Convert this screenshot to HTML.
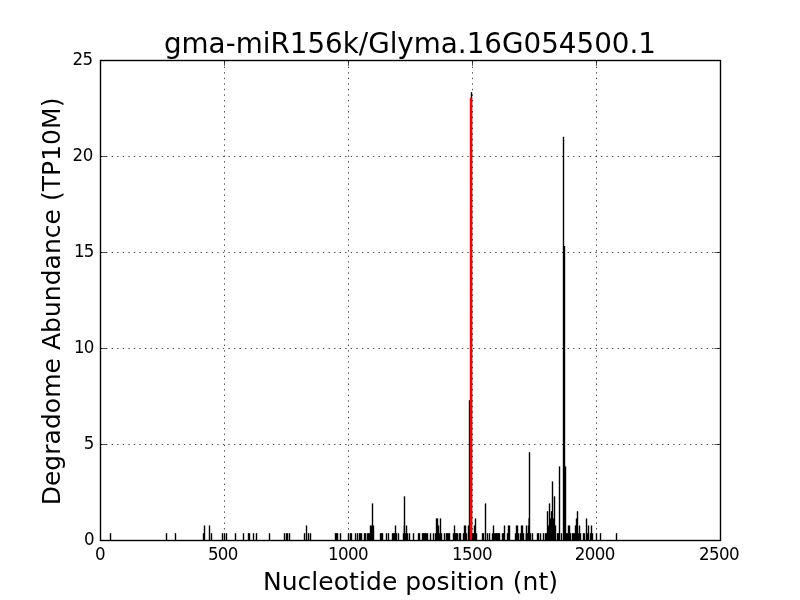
<!DOCTYPE html>
<html><head><meta charset="utf-8"><title>gma-miR156k/Glyma.16G054500.1</title>
<style>html,body{margin:0;padding:0;background:#fff;width:800px;height:600px;overflow:hidden}svg{display:block}text{font-family:"DejaVu Sans","Liberation Sans",sans-serif;fill:#000}</style></head><body>
<svg width="800" height="600" viewBox="0 0 800 600">
<rect width="800" height="600" fill="#fff"/>
<g stroke="#000" stroke-width="0.7" stroke-dasharray="1.39 4.17" fill="none">
<path d="M224.5 540.6V60"/><path d="M348.5 540.6V60"/><path d="M472.5 540.6V60"/><path d="M596.5 540.6V60"/><path d="M100.5 444.5H720"/><path d="M100.5 348.5H720"/><path d="M100.5 252.5H720"/><path d="M100.5 156.5H720"/>
</g>
<g>
<rect x="109.8" y="533.2" width="1.4" height="7.3" fill="#000"/><rect x="165.8" y="533.2" width="1.4" height="7.3" fill="#000"/><rect x="174.8" y="533.2" width="1.4" height="7.3" fill="#000"/><rect x="202.8" y="533.2" width="1.4" height="7.3" fill="#000"/><rect x="203.8" y="525.5" width="1.4" height="15" fill="#000"/><rect x="208.8" y="525.5" width="1.4" height="15" fill="#000"/><rect x="210.8" y="533.2" width="1.4" height="7.3" fill="#000"/><rect x="221.8" y="533.2" width="1.4" height="7.3" fill="#000"/><rect x="223.8" y="533.2" width="1.4" height="7.3" fill="#000"/><rect x="225.8" y="533.2" width="1.4" height="7.3" fill="#000"/><rect x="234.8" y="533.2" width="1.4" height="7.3" fill="#000"/><rect x="242.8" y="533.2" width="1.4" height="7.3" fill="#000"/><rect x="247.8" y="533.2" width="1.4" height="7.3" fill="#000"/><rect x="248.8" y="533.2" width="1.4" height="7.3" fill="#000"/><rect x="252.8" y="533.2" width="1.4" height="7.3" fill="#000"/><rect x="255.8" y="533.2" width="1.4" height="7.3" fill="#000"/><rect x="268.8" y="533.2" width="1.4" height="7.3" fill="#000"/><rect x="283.8" y="533.2" width="1.4" height="7.3" fill="#000"/><rect x="285.8" y="533.2" width="1.4" height="7.3" fill="#000"/><rect x="286.8" y="533.2" width="1.4" height="7.3" fill="#000"/><rect x="288.8" y="533.2" width="1.4" height="7.3" fill="#000"/><rect x="303.8" y="533.2" width="1.4" height="7.3" fill="#000"/><rect x="305.8" y="525.5" width="1.4" height="15" fill="#000"/><rect x="307.8" y="533.2" width="1.4" height="7.3" fill="#000"/><rect x="309.8" y="533.2" width="1.4" height="7.3" fill="#000"/><rect x="334.8" y="533.2" width="1.4" height="7.3" fill="#000"/><rect x="335.8" y="533.2" width="1.4" height="7.3" fill="#000"/><rect x="336.8" y="533.2" width="1.4" height="7.3" fill="#000"/><rect x="339.8" y="533.2" width="1.4" height="7.3" fill="#000"/><rect x="347.8" y="533.2" width="1.4" height="7.3" fill="#000"/><rect x="349.8" y="533.2" width="1.4" height="7.3" fill="#000"/><rect x="350.8" y="533.2" width="1.4" height="7.3" fill="#000"/><rect x="354.8" y="533.2" width="1.4" height="7.3" fill="#000"/><rect x="356.8" y="533.2" width="1.4" height="7.3" fill="#000"/><rect x="358.8" y="533.2" width="1.4" height="7.3" fill="#000"/><rect x="359.8" y="533.2" width="1.4" height="7.3" fill="#000"/><rect x="360.8" y="533.2" width="1.4" height="7.3" fill="#000"/><rect x="363.8" y="533.2" width="1.4" height="7.3" fill="#000"/><rect x="364.8" y="533.2" width="1.4" height="7.3" fill="#000"/><rect x="366.8" y="533.2" width="1.4" height="7.3" fill="#000"/><rect x="367.8" y="533.2" width="1.4" height="7.3" fill="#000"/><rect x="368.8" y="533.2" width="1.4" height="7.3" fill="#000"/><rect x="369.8" y="525.5" width="1.4" height="15" fill="#000"/><rect x="370.8" y="525.5" width="1.4" height="15" fill="#000"/><rect x="371.8" y="503.4" width="1.4" height="37.1" fill="#000"/><rect x="372.8" y="525.5" width="1.4" height="15" fill="#000"/><rect x="379.8" y="533.2" width="1.4" height="7.3" fill="#000"/><rect x="380.8" y="533.2" width="1.4" height="7.3" fill="#000"/><rect x="381.8" y="533.2" width="1.4" height="7.3" fill="#000"/><rect x="385.8" y="533.2" width="1.4" height="7.3" fill="#000"/><rect x="387.8" y="533.2" width="1.4" height="7.3" fill="#000"/><rect x="391.8" y="533.2" width="1.4" height="7.3" fill="#000"/><rect x="392.8" y="533.2" width="1.4" height="7.3" fill="#000"/><rect x="393.8" y="533.2" width="1.4" height="7.3" fill="#000"/><rect x="394.8" y="525.5" width="1.4" height="15" fill="#000"/><rect x="395.8" y="533.2" width="1.4" height="7.3" fill="#000"/><rect x="397.8" y="533.2" width="1.4" height="7.3" fill="#000"/><rect x="402.8" y="533.2" width="1.4" height="7.3" fill="#000"/><rect x="403.8" y="496.3" width="1.4" height="44.2" fill="#000"/><rect x="404.8" y="533.2" width="1.4" height="7.3" fill="#000"/><rect x="405.8" y="525.5" width="1.4" height="15" fill="#000"/><rect x="406.8" y="533.2" width="1.4" height="7.3" fill="#000"/><rect x="408.8" y="533.2" width="1.4" height="7.3" fill="#000"/><rect x="412.8" y="533.2" width="1.4" height="7.3" fill="#000"/><rect x="417.8" y="533.2" width="1.4" height="7.3" fill="#000"/><rect x="418.8" y="533.2" width="1.4" height="7.3" fill="#000"/><rect x="421.8" y="533.2" width="1.4" height="7.3" fill="#000"/><rect x="422.8" y="533.2" width="1.4" height="7.3" fill="#000"/><rect x="423.8" y="533.2" width="1.4" height="7.3" fill="#000"/><rect x="424.8" y="533.2" width="1.4" height="7.3" fill="#000"/><rect x="425.8" y="533.2" width="1.4" height="7.3" fill="#000"/><rect x="426.8" y="533.2" width="1.4" height="7.3" fill="#000"/><rect x="429.8" y="533.2" width="1.4" height="7.3" fill="#000"/><rect x="432.8" y="533.2" width="1.4" height="7.3" fill="#000"/><rect x="434.8" y="533.2" width="1.4" height="7.3" fill="#000"/><rect x="435.8" y="518.4" width="1.4" height="22.1" fill="#000"/><rect x="436.8" y="518.4" width="1.4" height="22.1" fill="#000"/><rect x="437.8" y="525.5" width="1.4" height="15" fill="#000"/><rect x="438.8" y="533.2" width="1.4" height="7.3" fill="#000"/><rect x="439.8" y="518.4" width="1.4" height="22.1" fill="#000"/><rect x="440.8" y="533.2" width="1.4" height="7.3" fill="#000"/><rect x="443.8" y="533.2" width="1.4" height="7.3" fill="#000"/><rect x="445.8" y="533.2" width="1.4" height="7.3" fill="#000"/><rect x="446.8" y="533.2" width="1.4" height="7.3" fill="#000"/><rect x="447.8" y="533.2" width="1.4" height="7.3" fill="#000"/><rect x="448.8" y="533.2" width="1.4" height="7.3" fill="#000"/><rect x="452.8" y="533.2" width="1.4" height="7.3" fill="#000"/><rect x="453.8" y="525.5" width="1.4" height="15" fill="#000"/><rect x="454.8" y="533.2" width="1.4" height="7.3" fill="#000"/><rect x="455.8" y="533.2" width="1.4" height="7.3" fill="#000"/><rect x="456.8" y="533.2" width="1.4" height="7.3" fill="#000"/><rect x="458.8" y="533.2" width="1.4" height="7.3" fill="#000"/><rect x="459.8" y="533.2" width="1.4" height="7.3" fill="#000"/><rect x="462.8" y="533.2" width="1.4" height="7.3" fill="#000"/><rect x="463.8" y="525.5" width="1.4" height="15" fill="#000"/><rect x="464.8" y="525.5" width="1.4" height="15" fill="#000"/><rect x="465.8" y="533.2" width="1.4" height="7.3" fill="#000"/><rect x="467.8" y="525.5" width="1.4" height="15" fill="#000"/><rect x="471.8" y="533.2" width="1.4" height="7.3" fill="#000"/><rect x="472.8" y="533.2" width="1.4" height="7.3" fill="#000"/><rect x="473.8" y="525.5" width="1.4" height="15" fill="#000"/><rect x="474.8" y="518.4" width="1.4" height="22.1" fill="#000"/><rect x="475.8" y="533.2" width="1.4" height="7.3" fill="#000"/><rect x="481.8" y="533.2" width="1.4" height="7.3" fill="#000"/><rect x="482.8" y="533.2" width="1.4" height="7.3" fill="#000"/><rect x="484.8" y="503.4" width="1.4" height="37.1" fill="#000"/><rect x="486.8" y="533.2" width="1.4" height="7.3" fill="#000"/><rect x="488.8" y="533.2" width="1.4" height="7.3" fill="#000"/><rect x="491.8" y="533.2" width="1.4" height="7.3" fill="#000"/><rect x="492.8" y="525.5" width="1.4" height="15" fill="#000"/><rect x="493.8" y="533.2" width="1.4" height="7.3" fill="#000"/><rect x="494.8" y="533.2" width="1.4" height="7.3" fill="#000"/><rect x="495.8" y="533.2" width="1.4" height="7.3" fill="#000"/><rect x="496.8" y="533.2" width="1.4" height="7.3" fill="#000"/><rect x="497.8" y="533.2" width="1.4" height="7.3" fill="#000"/><rect x="498.8" y="533.2" width="1.4" height="7.3" fill="#000"/><rect x="501.8" y="533.2" width="1.4" height="7.3" fill="#000"/><rect x="502.8" y="533.2" width="1.4" height="7.3" fill="#000"/><rect x="503.8" y="525.5" width="1.4" height="15" fill="#000"/><rect x="506.8" y="533.2" width="1.4" height="7.3" fill="#000"/><rect x="507.8" y="525.5" width="1.4" height="15" fill="#000"/><rect x="508.8" y="525.5" width="1.4" height="15" fill="#000"/><rect x="514.8" y="533.2" width="1.4" height="7.3" fill="#000"/><rect x="515.8" y="525.5" width="1.4" height="15" fill="#000"/><rect x="516.8" y="525.5" width="1.4" height="15" fill="#000"/><rect x="517.8" y="533.2" width="1.4" height="7.3" fill="#000"/><rect x="519.8" y="533.2" width="1.4" height="7.3" fill="#000"/><rect x="520.8" y="525.5" width="1.4" height="15" fill="#000"/><rect x="521.8" y="525.5" width="1.4" height="15" fill="#000"/><rect x="522.8" y="533.2" width="1.4" height="7.3" fill="#000"/><rect x="525.8" y="525.5" width="1.4" height="15" fill="#000"/><rect x="526.8" y="533.2" width="1.4" height="7.3" fill="#000"/><rect x="527.8" y="525.5" width="1.4" height="15" fill="#000"/><rect x="528.8" y="533.2" width="1.4" height="7.3" fill="#000"/><rect x="529.8" y="533.2" width="1.4" height="7.3" fill="#000"/><rect x="531.8" y="533.2" width="1.4" height="7.3" fill="#000"/><rect x="536.8" y="533.2" width="1.4" height="7.3" fill="#000"/><rect x="537.8" y="533.2" width="1.4" height="7.3" fill="#000"/><rect x="539.8" y="533.2" width="1.4" height="7.3" fill="#000"/><rect x="542.8" y="533.2" width="1.4" height="7.3" fill="#000"/><rect x="544.8" y="533.2" width="1.4" height="7.3" fill="#000"/><rect x="545.8" y="533.2" width="1.4" height="7.3" fill="#000"/><rect x="546.8" y="511.2" width="1.4" height="29.3" fill="#000"/><rect x="547.8" y="525.5" width="1.4" height="15" fill="#000"/><rect x="548.8" y="503.4" width="1.4" height="37.1" fill="#000"/><rect x="549.8" y="518.4" width="1.4" height="22.1" fill="#000"/><rect x="550.8" y="511.2" width="1.4" height="29.3" fill="#000"/><rect x="551.8" y="481.4" width="1.4" height="59.1" fill="#000"/><rect x="552.8" y="518.4" width="1.4" height="22.1" fill="#000"/><rect x="553.8" y="496.3" width="1.4" height="44.2" fill="#000"/><rect x="554.8" y="525.5" width="1.4" height="15" fill="#000"/><rect x="556.8" y="533.2" width="1.4" height="7.3" fill="#000"/><rect x="557.8" y="533.2" width="1.4" height="7.3" fill="#000"/><rect x="558.8" y="466.4" width="1.4" height="74.1" fill="#000"/><rect x="560.8" y="533.2" width="1.4" height="7.3" fill="#000"/><rect x="564.8" y="466.4" width="1.4" height="74.1" fill="#000"/><rect x="565.8" y="533.2" width="1.4" height="7.3" fill="#000"/><rect x="566.8" y="533.2" width="1.4" height="7.3" fill="#000"/><rect x="567.8" y="525.5" width="1.4" height="15" fill="#000"/><rect x="568.8" y="525.5" width="1.4" height="15" fill="#000"/><rect x="569.8" y="533.2" width="1.4" height="7.3" fill="#000"/><rect x="571.8" y="533.2" width="1.4" height="7.3" fill="#000"/><rect x="572.8" y="533.2" width="1.4" height="7.3" fill="#000"/><rect x="573.8" y="533.2" width="1.4" height="7.3" fill="#000"/><rect x="574.8" y="525.5" width="1.4" height="15" fill="#000"/><rect x="575.8" y="518.4" width="1.4" height="22.1" fill="#000"/><rect x="576.8" y="511.2" width="1.4" height="29.3" fill="#000"/><rect x="577.8" y="533.2" width="1.4" height="7.3" fill="#000"/><rect x="578.8" y="525.5" width="1.4" height="15" fill="#000"/><rect x="579.8" y="533.2" width="1.4" height="7.3" fill="#000"/><rect x="582.8" y="533.2" width="1.4" height="7.3" fill="#000"/><rect x="583.8" y="533.2" width="1.4" height="7.3" fill="#000"/><rect x="585.8" y="518.4" width="1.4" height="22.1" fill="#000"/><rect x="586.8" y="533.2" width="1.4" height="7.3" fill="#000"/><rect x="587.8" y="525.5" width="1.4" height="15" fill="#000"/><rect x="589.8" y="533.2" width="1.4" height="7.3" fill="#000"/><rect x="590.8" y="525.5" width="1.4" height="15" fill="#000"/><rect x="591.8" y="533.2" width="1.4" height="7.3" fill="#000"/><rect x="595.8" y="533.2" width="1.4" height="7.3" fill="#000"/><rect x="599.8" y="533.2" width="1.4" height="7.3" fill="#000"/><rect x="615.8" y="533.2" width="1.4" height="7.3" fill="#000"/><rect x="468.8" y="400.2" width="1.4" height="140.3" fill="#000"/><rect x="528.8" y="452.2" width="1.4" height="88.3" fill="#000"/><rect x="528.45" y="518.2" width="0.6" height="22.3" fill="#000"/><rect x="403.7" y="525.5" width="0.3" height="15" fill="#000"/><rect x="525.3" y="533.2" width="0.35" height="7.3" fill="#000"/><rect x="562.8" y="136.75" width="1.4" height="403.75" fill="#000"/><rect x="563.8" y="246" width="1.4" height="294.5" fill="#000"/><rect x="470.8" y="92.2" width="1.4" height="448.3" fill="#000"/><rect x="469.8" y="97.75" width="2.4" height="442.75" fill="#f00"/>
</g>
<g stroke="#000" stroke-width="0.7" fill="none">
<path d="M100.5 540.5v-5.6M100.5 60.5v5.3"/><path d="M224.5 540.5v-5.6M224.5 60.5v5.3"/><path d="M348.5 540.5v-5.6M348.5 60.5v5.3"/><path d="M472.5 540.5v-5.6M472.5 60.5v5.3"/><path d="M596.5 540.5v-5.6M596.5 60.5v5.3"/><path d="M720.5 540.5v-5.6M720.5 60.5v5.3"/><path d="M101 540.5h5.5M720 540.5h-5.5"/><path d="M101 444.5h5.5M720 444.5h-5.5"/><path d="M101 348.5h5.5M720 348.5h-5.5"/><path d="M101 252.5h5.5M720 252.5h-5.5"/><path d="M101 156.5h5.5M720 156.5h-5.5"/><path d="M101 60.5h5.5M720 60.5h-5.5"/>
</g>
<rect x="100.5" y="60.5" width="620" height="480" fill="none" stroke="#000" stroke-width="1.4"/>
<g font-size="16.67px">
<text transform="translate(0 559.9) scale(1 1.07)" x="94.9">0</text><text transform="translate(0 559.9) scale(1 1.07)" x="207.9 217.8 227.7">500</text><text transform="translate(0 559.9) scale(1 1.07)" x="327.9 337.9 347.9 357.9">1000</text><text transform="translate(0 559.9) scale(1 1.07)" x="451.9 461.9 471.9 481.9">1500</text><text transform="translate(0 559.9) scale(1 1.07)" x="574.8 584.8 594.8 604.8">2000</text><text transform="translate(0 559.9) scale(1 1.07)" x="698.9 708.9 718.9 728.9">2500</text>
<text transform="translate(0 544.85) scale(1 1.07)" x="84">0</text><text transform="translate(0 448.85) scale(1 1.07)" x="83.7">5</text><text transform="translate(0 352.85) scale(1 1.07)" x="74 83.7">10</text><text transform="translate(0 256.85) scale(1 1.07)" x="74 83.7">15</text><text transform="translate(0 160.85) scale(1 1.07)" x="72.6 82.7">20</text><text transform="translate(0 64.85) scale(1 1.07)" x="72.5 82.6">25</text>
</g>
<text x="410" y="52.8" font-size="27.78px" text-anchor="middle">gma-miR156k/Glyma.16G054500.1</text>
<text x="410.5" y="589.7" font-size="25px" letter-spacing="0.05" text-anchor="middle">Nucleotide position (nt)</text>
<text transform="translate(60.4 301.45) rotate(-90)" font-size="25px" letter-spacing="0.03" text-anchor="middle">Degradome Abundance (TP10M)</text>
</svg>
</body></html>
